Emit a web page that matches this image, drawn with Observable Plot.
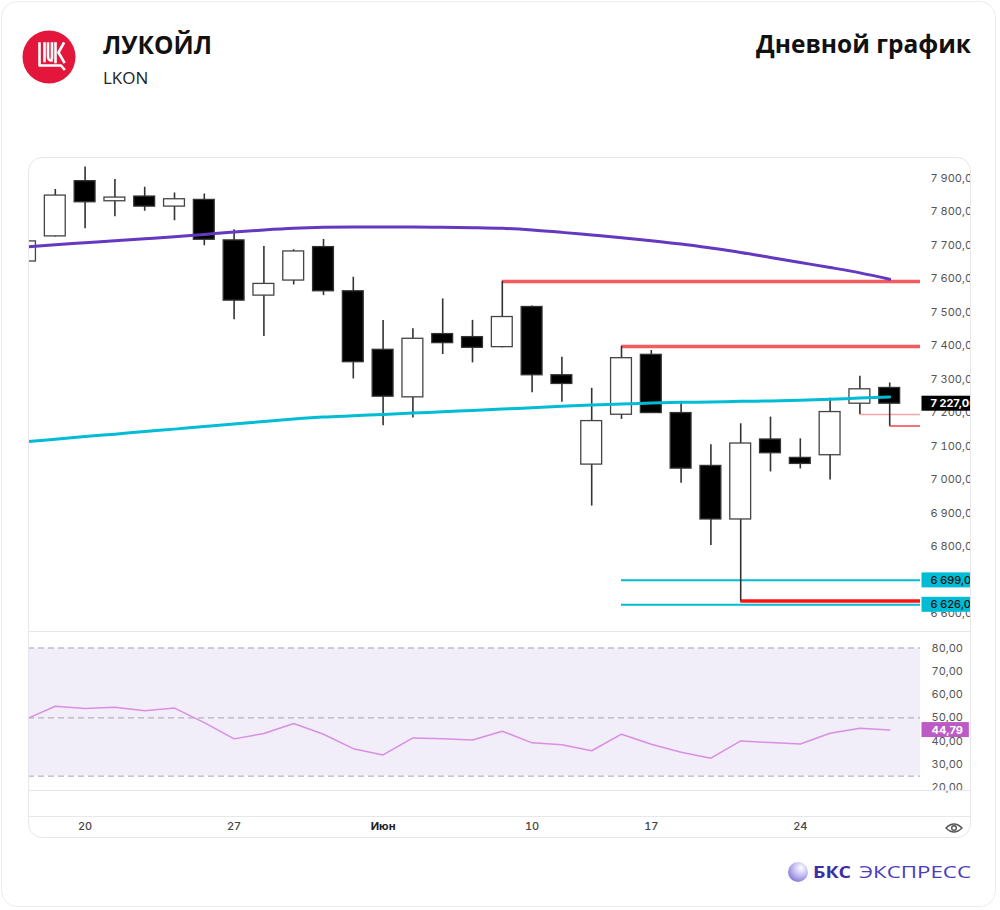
<!DOCTYPE html>
<html>
<head>
<meta charset="utf-8">
<script src="https://cdn.jsdelivr.net/npm/d3@7"></script>
<script src="https://cdn.jsdelivr.net/npm/@observablehq/plot@0.6"></script>
<style>
  html, body { margin: 0; padding: 0; background: #fff; }
  #page { position: relative; width: 1000px; height: 910px; overflow: hidden; font-family: "Open Sans", sans-serif; }
  #deco { position: absolute; left: 0; top: 0; }
  #card { position: absolute; left: 1px; top: 1px; width: 995px; height: 906px; border: 1px solid #ececef; border-radius: 16px; box-sizing: border-box; }
  #panel { position: absolute; left: 28px; top: 157px; width: 943px; height: 681px; overflow: hidden; border-radius: 14px; }
  #panelBorder { position: absolute; left: 28px; top: 157px; width: 943px; height: 681px; border: 1px solid #e6e6ec; border-radius: 14px; box-sizing: border-box; pointer-events: none; }
  .sep { position: absolute; left: 0; width: 943px; height: 1px; background: #e6e6ec; }
  #pricePlot { position: absolute; left: 0; top: 0; }
  #rsiPlot { position: absolute; left: 0; top: 474px; }
  #eye { position: absolute; left: 916px; top: 664px; }
</style>
</head>
<body>
<div id="page">
  <div id="card"></div>
  <svg id="deco" width="1000" height="910">
    <defs>
      <radialGradient id="sph" cx="0.65" cy="0.3" r="0.8">
        <stop offset="0" stop-color="#ffffff"/>
        <stop offset="0.45" stop-color="#c9c2f2"/>
        <stop offset="1" stop-color="#7b6fd6"/>
      </radialGradient>
    </defs>
    <circle cx="49" cy="57" r="26.5" fill="#e3173b"/>
    <g fill="none" stroke="#fff" stroke-width="2.6" stroke-linejoin="round" stroke-linecap="square">
      <path d="M39.5,43.5 V65.5 H61 L64,69"/>
      <path d="M44.5,43.5 V61"/>
      <path d="M48,43.5 V56 Q48,60.5 51.5,60.5"/>
      <path d="M52,43.5 V58"/>
      <path d="M55.5,43.5 V62"/>
      <path d="M63.5,43.5 L58.5,52.5 L64,62"/>
    </g>
    <text x="103" y="54" font-family="Open Sans" font-weight="700" font-size="24.5" fill="#111">ЛУКОЙЛ</text>
    <text x="103" y="84" font-family="Open Sans" font-weight="400" font-size="17" fill="#222">LKON</text>
    <text x="971" y="53" text-anchor="end" font-family="Open Sans" font-weight="700" font-size="24.5" fill="#111">Дневной график</text>
    <circle cx="798" cy="872" r="10" fill="url(#sph)"/>
    <text x="813" y="878" font-family="Open Sans" font-weight="700" font-size="16" fill="#3b2fa6" textLength="38" lengthAdjust="spacingAndGlyphs">БКС</text>
    <text x="859" y="878" font-family="Open Sans" font-weight="400" font-size="16" fill="#4a3cc0" textLength="112" lengthAdjust="spacingAndGlyphs">ЭКСПРЕСС</text>
  </svg>
  <div id="panel">
    <div id="pricePlot"></div>
    <div id="rsiPlot"></div>
    <div class="sep" style="top:474px"></div>
    <div class="sep" style="top:633px"></div>
    <div class="sep" style="top:659px"></div>
    <svg id="eye" width="20" height="14" viewBox="0 0 20 14">
      <path d="M2,7 Q10,-1 18,7 Q10,15 2,7 Z" fill="none" stroke="#555" stroke-width="1.4"/>
      <circle cx="10" cy="7" r="2.3" fill="none" stroke="#555" stroke-width="1.4"/>
    </svg>
  </div>
  <div id="panelBorder"></div>
</div>
<script>
// ---------- DATA ----------
const dates = ["16.05","17.05","20.05","21.05","22.05","23.05","24.05","27.05","28.05","29.05",
               "30.05","31.05","03.06","04.06","05.06","06.06","07.06","10.06","11.06","13.06",
               "14.06","17.06","18.06","19.06","20.06","21.06","24.06","25.06","26.06","27.06"];
const open  = [7652,7727,7892,7832,7846,7816,7836,7715,7550,7595,
               7695,7563,7388,7246,7435,7426,7396,7516,7312,7045,
               7194,7373,7199,7041,6881,7120,7065,7073,7227,7274];
const high  = [7730,7867,7934,7897,7874,7857,7854,7747,7697,7687,
               7718,7605,7476,7451,7540,7476,7592,7519,7366,7273,
               7398,7386,7231,7104,7167,7187,7122,7243,7309,7289];
const low   = [7640,7725,7750,7786,7802,7774,7699,7478,7428,7582,
               7550,7301,7161,7184,7374,7349,7394,7260,7231,6921,
               7180,7199,6989,6803,6637,7023,7032,6999,7195,7160];
const close = [7712,7849,7829,7843,7816,7838,7717,7535,7585,7682,
               7563,7351,7248,7421,7408,7394,7486,7312,7286,7175,
               7363,7199,7033,6881,7108,7079,7047,7202,7270,7227];
const maSlow = [7695,7702,7708,7714,7720,7726,7733,7740,7746,7751,
                7754,7755,7755,7755,7754,7753,7751,7746,7739,7731,
                7723,7714,7704,7692,7679,7664,7649,7634,7618,7599];
const maFast = [7113,7121,7129,7136,7144,7151,7159,7166,7174,7181,
                7187,7191,7195,7199,7203,7207,7211,7215,7219,7223,
                7226,7229,7231,7232,7234,7235,7237,7240,7244,7247];
const rsi    = [49.4,55.0,54.0,54.6,53.1,54.2,48.0,41.0,43.3,47.6,
                43.0,36.8,34.1,41.4,41.1,40.5,44.3,39.3,38.5,35.9,
                43.0,38.7,35.3,32.7,40.1,39.4,38.8,43.4,45.6,44.79];

const levelValues = [7592, 7398, 7195, 7160, 6699, 6626, 6637];
const levelFrom   = [16, 20, 28, 29, 20, 20, 24];
const levelKind   = ["resistance","resistance","stopLight","stop","support","support","low"];

const tagValues = [7227, 6699, 6626];
const tagKind   = ["last", "support", "support"];
const rsiTag    = [44.79];

const priceTicks = [6600,6700,6800,6900,7000,7100,7200,7300,7400,7500,7600,7700,7800,7900];
const rsiTicks   = [20,30,40,50,60,70,80];
const rsiLevels  = [80, 50, 25];
const rsiBand    = [25, 80];
const xTickIdx    = [2, 7, 17, 21, 26];
const xTickLabels = ["20", "27", "10", "17", "24"];
const monthTickIdx = [12];
const monthTickLabels = ["Июн"];

// ---------- BUILD ----------
const candles = dates.map((d, i) => ({i, date: d, open: open[i], high: high[i], low: low[i], close: close[i],
  maSlow: maSlow[i], maFast: maFast[i], rsi: rsi[i]}));
const levels = levelValues.map((v, k) => ({v, from: levelFrom[k], kind: levelKind[k]}));
const tags = tagValues.map((v, k) => ({v, kind: tagKind[k]}));
const X_END = 31;

const ru = d3.formatLocale({decimal: ",", thousands: "\u00a0", grouping: [3], currency: ["", ""]});
const fmtAxis = ru.format(",.2f");

const W = 943;
const xScale = {domain: [0, 29], range: [-3, 861.2], axis: null};
const baseStyle = {fontFamily: "Inter, sans-serif", fontSize: "11px", background: "transparent", overflow: "visible"};

const levelStyle = {
  resistance: {stroke: "#f45b5e", w: 3.5},
  stopLight: {stroke: "#f8a3a6", w: 1.5},
  stop: {stroke: "#ec4449", w: 1.5},
  low: {stroke: "#ff1414", w: 3.5},
  support: {stroke: "#00bcd4", w: 2}
};
const tagStyle = {last: {box: "#000", text: "#fff", weight: 700}, support: {box: "#00bcd4", text: "#111", weight: 500}};

const up = candles.filter(d => d.close >= d.open);
const down = candles.filter(d => d.close < d.open);

const price = Plot.plot({
  width: W, height: 474,
  marginLeft: 0, marginRight: 51, marginTop: 0, marginBottom: 0,
  x: xScale,
  y: {domain: [6600, 7900], range: [456, 21], axis: null, label: null},
  style: baseStyle,
  marks: [
    Plot.axisY(priceTicks, {anchor: "right", tickSize: 0, tickPadding: 10, tickFormat: fmtAxis, fill: "#555", fontSize: 11, label: null}),
    ...Object.entries(levelStyle).map(([k, s]) =>
      Plot.ruleY(levels.filter(l => l.kind === k), {y: "v", x1: "from", x2: () => X_END, stroke: s.stroke, strokeWidth: s.w, clip: true})),
    Plot.ruleX(candles, {x: "i", y1: "low", y2: "high", stroke: "#333", strokeWidth: 1.6, clip: true}),
    Plot.rect(up, {x1: d => d.i - 0.35, x2: d => d.i + 0.35, y1: "open", y2: "close", fill: "#fff", stroke: "#444", strokeWidth: 1.3, clip: true}),
    Plot.rect(down, {x1: d => d.i - 0.35, x2: d => d.i + 0.35, y1: "open", y2: "close", fill: "#000", stroke: "#333", strokeWidth: 1.3, clip: true}),
    Plot.line(candles, {x: "i", y: "maSlow", stroke: "#6538c0", strokeWidth: 3, curve: "monotone-x", clip: true}),
    Plot.line(candles, {x: "i", y: "maFast", stroke: "#00bcd4", strokeWidth: 3, curve: "monotone-x", clip: true}),
    ...Object.entries(tagStyle).map(([k, s]) =>
      Plot.text(tags.filter(t => t.kind === k), {y: "v", text: d => fmtAxis(d.v), frameAnchor: "right", textAnchor: "start", dx: 10,
        fill: s.text, fontWeight: s.weight, fontSize: 11, ariaDescription: "tag-" + k}))
  ]
});
document.getElementById("pricePlot").append(price);

const rsiPlot = Plot.plot({
  width: W, height: 207,
  marginLeft: 0, marginRight: 51, marginTop: 0, marginBottom: 47,
  x: xScale,
  y: {domain: [20, 80], range: [156.3, 16.5], axis: null, label: null},
  style: baseStyle,
  marks: [
    Plot.rect([rsiBand], {y1: d => d[0], y2: d => d[1], fill: "#f1edf9"}),
    Plot.ruleY(rsiLevels, {stroke: "#a9a4b2", strokeWidth: 1, strokeDasharray: "6,4"}),
    Plot.axisY(rsiTicks, {anchor: "right", tickSize: 0, tickPadding: 11, tickFormat: fmtAxis, fill: "#555", fontSize: 11, label: null}),
    Plot.line(candles, {x: "i", y: "rsi", stroke: "#d98fe2", strokeWidth: 1.5, clip: true}),
    Plot.axisX(xTickIdx, {anchor: "bottom", tickSize: 0, tickPadding: 31, tickFormat: d => xTickLabels[xTickIdx.indexOf(d)], fill: "#444", fontSize: 11, fontWeight: 500, label: null}),
    Plot.axisX(monthTickIdx, {anchor: "bottom", tickSize: 0, tickPadding: 31, tickFormat: d => monthTickLabels[monthTickIdx.indexOf(d)], fill: "#222", fontSize: 11, fontWeight: 700, label: null}),
    Plot.text(rsiTag, {y: d => d, text: d => fmtAxis(d), frameAnchor: "right", textAnchor: "start", dx: 11, fill: "#fff", fontWeight: 700, fontSize: 11, ariaDescription: "tag-rsi"})
  ]
});
document.getElementById("rsiPlot").append(rsiPlot);

function addBoxes(svg, label, fill, padL, padR) {
  const nodes = Array.from(svg.querySelectorAll(`g[aria-description="${label}"] text`));
  nodes.forEach(node => {
    const b = node.getBBox();
    const r = document.createElementNS("http://www.w3.org/2000/svg", "rect");
    r.setAttribute("x", b.x - padL);
    r.setAttribute("y", b.y - 0.5);
    r.setAttribute("width", b.width + padL + padR);
    r.setAttribute("height", b.height + 1);
    r.setAttribute("fill", fill);
    const t = node.getAttribute("transform");
    if (t) r.setAttribute("transform", t);
    node.parentNode.insertBefore(r, node);
  });
}
addBoxes(price, "tag-last", tagStyle.last.box, 9, 30);
addBoxes(price, "tag-support", tagStyle.support.box, 9, 30);
addBoxes(rsiPlot, "tag-rsi", "#bd5bc6", 10, 6);
</script>
</body>
</html>
